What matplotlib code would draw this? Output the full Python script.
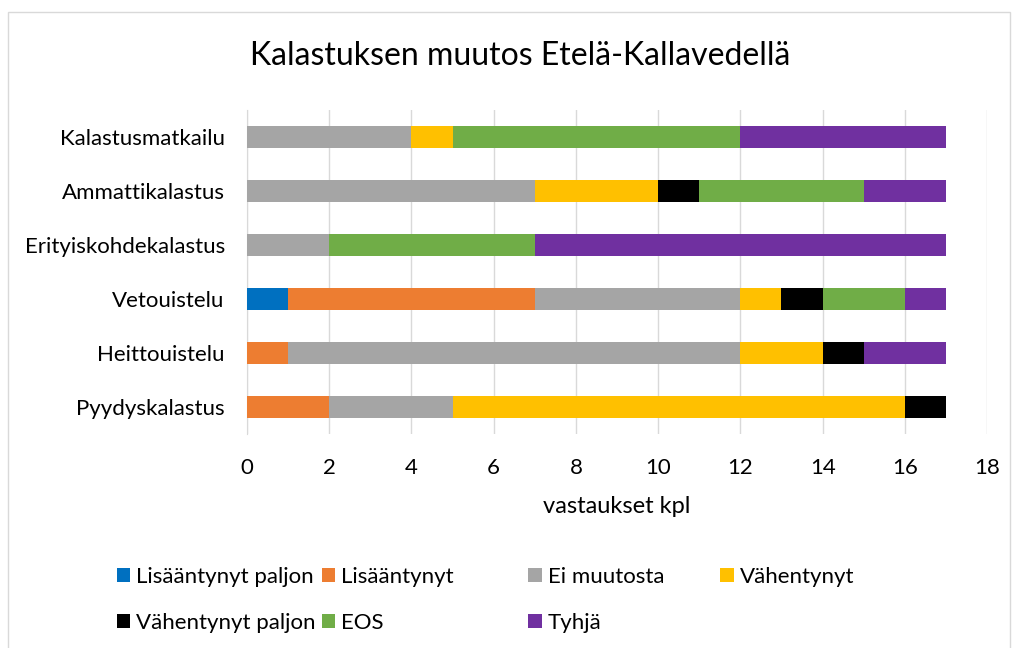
import matplotlib.pyplot as plt
from matplotlib.patches import Rectangle, Patch
import numpy as np

plt.rcParams['font.family'] = ['Lato', 'DejaVu Sans']

# Luokat alhaalta ylös
categories = ['Pyydyskalastus', 'Heittouistelu', 'Vetouistelu',
              'Erityiskohdekalastus', 'Ammattikalastus', 'Kalastusmatkailu']

series_names = ['Lisääntynyt paljon', 'Lisääntynyt', 'Ei muutosta', 'Vähentynyt',
                'Vähentynyt paljon', 'EOS', 'Tyhjä']
colors = ['#0070C0', '#ED7D31', '#A5A5A5', '#FFC000', '#000000', '#70AD47', '#7030A0']

lisaantynyt_paljon = [0, 0, 1, 0, 0, 0]
lisaantynyt = [2, 1, 6, 0, 0, 0]
ei_muutosta = [3, 11, 5, 2, 7, 4]
vahentynyt = [11, 2, 1, 0, 3, 1]
vahentynyt_paljon = [1, 1, 1, 0, 1, 0]
eos = [0, 0, 2, 5, 4, 7]
tyhja = [0, 2, 1, 10, 2, 5]

values = [lisaantynyt_paljon, lisaantynyt, ei_muutosta, vahentynyt,
          vahentynyt_paljon, eos, tyhja]

fig = plt.figure(figsize=(10.16, 6.48), dpi=100)
ax = fig.add_axes([0.2431, 0.330, 0.7284, 0.500])

y = np.arange(len(categories))
left = np.zeros(len(categories))
handles = []
for name, vals, col in zip(series_names, values, colors):
    vals = np.array(vals, dtype=float)
    ax.barh(y, vals, left=left, height=0.4, color=col, label=name, zorder=3)
    left += vals
    handles.append(Patch(facecolor=col, label=name))

ax.set_xlim(0, 18)
ax.set_ylim(-0.5, len(categories) - 0.5)
ax.set_xticks(range(0, 19, 2))
ax.set_yticks(y)
ax.set_yticklabels(categories)
ax.tick_params(axis='both', length=0, labelsize=16, colors='#000000')
ax.tick_params(axis='x', pad=17)
ax.tick_params(axis='y', pad=16)
ax.grid(axis='x', color='#D9D9D9', linewidth=1, zorder=0)
for s in ['top', 'right', 'bottom']:
    ax.spines[s].set_visible(False)
ax.spines['left'].set_color('#D9D9D9')
ax.set_xlabel('vastaukset kpl', fontsize=17, labelpad=13)

fig.text(0.512, 0.913, 'Kalastuksen muutos Etelä-Kallavedellä', ha='center', va='center', fontsize=23)

# Selite: neljä saraketta, kaksi riviä
col_x = [0.115, 0.317, 0.520, 0.709]
col_items = [[0, 4], [1, 5], [2, 6], [3]]
for cx, items in zip(col_x, col_items):
    fig.legend(handles=[handles[i] for i in items], loc='upper left',
               bbox_to_anchor=(cx, 0.125), frameon=False, fontsize=16,
               handlelength=0.6, handleheight=0.6, handletextpad=0.27,
               labelspacing=1.17, borderaxespad=0, borderpad=0)

fig.patches.append(Rectangle((0.008, -0.01), 0.986, 0.991, transform=fig.transFigure,
                             fill=False, edgecolor='#D9D9D9', linewidth=1))

plt.savefig('out.png', dpi=100)
plt.close()
